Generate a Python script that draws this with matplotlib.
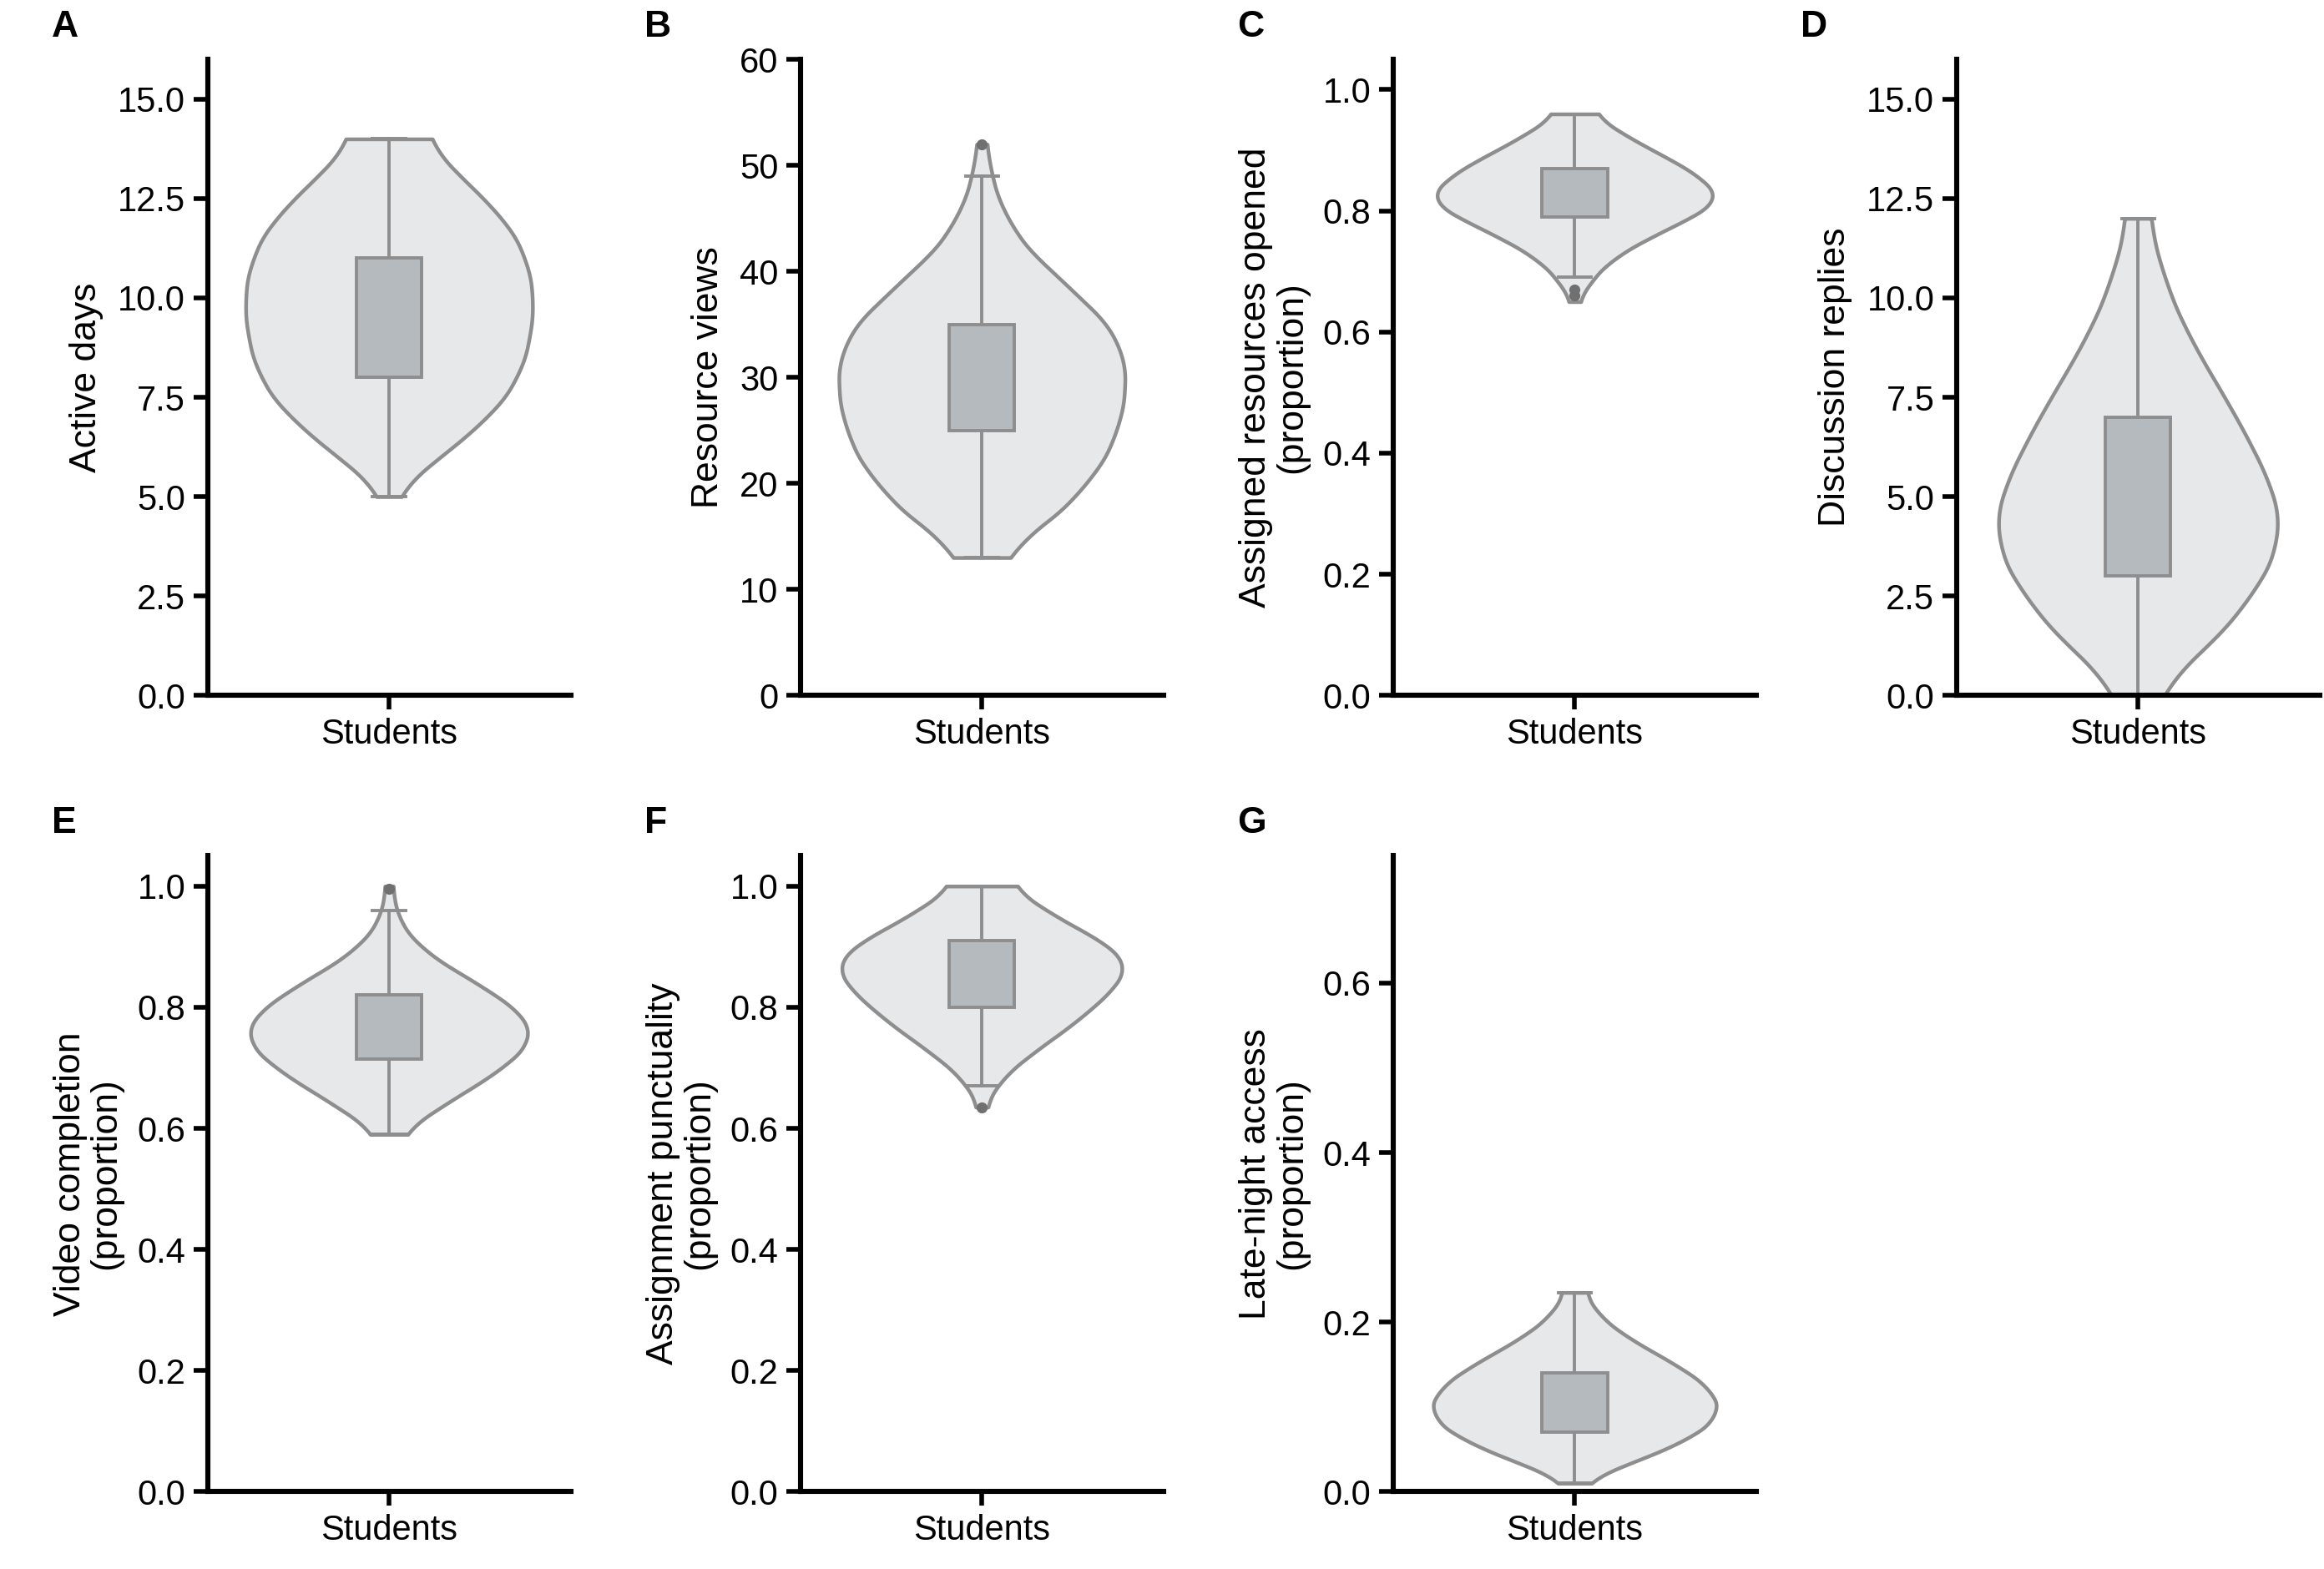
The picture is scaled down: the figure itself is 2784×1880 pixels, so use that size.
import numpy as np
import matplotlib
matplotlib.use("Agg")
from matplotlib import pyplot as plt

plt.rcParams['font.family'] = ['Liberation Sans', 'DejaVu Sans']

letters = ["A", "B", "C", "D", "E", "F", "G"]
ylabels = ["Active days", "Resource views", "Assigned resources opened\n(proportion)",
           "Discussion replies", "Video completion\n(proportion)",
           "Assignment punctuality\n(proportion)", "Late-night access\n(proportion)"]

# violin outlines: (value, half width)
shape_y = [
    [5, 6, 7, 8, 9, 10, 11, 12, 13, 14],
    [13, 15, 20, 25, 30, 33, 37, 40, 45, 50, 52],
    [0.65, 0.68, 0.72, 0.76, 0.80, 0.82, 0.85, 0.88, 0.92, 0.96],
    [0, 1, 2.5, 4, 5, 6, 7.5, 9, 10.5, 12],
    [0.59, 0.65, 0.70, 0.75, 0.78, 0.82, 0.86, 0.90, 0.94, 0.97, 1.0],
    [0.635, 0.68, 0.72, 0.78, 0.84, 0.87, 0.90, 0.95, 1.0],
    [0.01, 0.03, 0.06, 0.09, 0.12, 0.15, 0.18, 0.21, 0.235],
]
shape_w = [
    [0.01, 0.14, 0.28, 0.36, 0.39, 0.40, 0.38, 0.32, 0.20, 0.10],
    [0.04, 0.14, 0.30, 0.38, 0.40, 0.39, 0.30, 0.18, 0.06, 0.02, 0.01],
    [0.01, 0.04, 0.10, 0.22, 0.36, 0.40, 0.36, 0.28, 0.15, 0.05],
    [0.04, 0.17, 0.32, 0.40, 0.38, 0.33, 0.24, 0.14, 0.07, 0.03],
    [0.03, 0.18, 0.32, 0.40, 0.38, 0.30, 0.18, 0.08, 0.03, 0.015, 0.01],
    [0.01, 0.05, 0.13, 0.27, 0.38, 0.40, 0.36, 0.20, 0.08],
    [0.02, 0.13, 0.31, 0.40, 0.38, 0.28, 0.15, 0.06, 0.03],
]
q1 = [8, 25, 0.79, 3, 0.715, 0.80, 0.07]
q3 = [11, 35, 0.87, 7, 0.82, 0.91, 0.14]
wlo = [5, 13, 0.69, 0, 0.59, 0.67, 0.01]
whi = [14, 49, 0.96, 12, 0.96, 1.0, 0.235]
outliers = [[], [52], [0.66, 0.67], [], [0.995], [0.635], []]
ylims = [(0, 16), (0, 60), (0, 1.05), (0, 16), (0, 1.05), (0, 1.05), (0, 0.75)]
yticks = [np.arange(0, 15.1, 2.5), np.arange(0, 61, 10), np.arange(0, 1.01, 0.2),
          np.arange(0, 15.1, 2.5), np.arange(0, 1.01, 0.2), np.arange(0, 1.01, 0.2),
          np.arange(0, 0.61, 0.2)]
fmt = ["%.1f", "%d", "%.1f", "%.1f", "%.1f", "%.1f", "%.1f"]

lefts = [140, 540, 940, 1320]
fig = plt.figure(figsize=(13.92, 9.4), dpi=200)
edge = "#8e8e8e"
for i in range(7):
    r, c = divmod(i, 4)
    top = 40 if r == 0 else 576
    ax = fig.add_axes([lefts[c] / 1568, 1 - (top + 428) / 1056, 245 / 1568, 428 / 1056])
    ys = np.array(shape_y[i], float)
    ws = np.array(shape_w[i], float)
    yy = np.linspace(ys[0], ys[-1], 300)
    ww = np.interp(yy, ys, ws)
    k = 25
    pad = np.concatenate([np.full(k, ww[0]), ww, np.full(k, ww[-1])])
    ww = np.convolve(pad, np.ones(2 * k + 1) / (2 * k + 1), mode="same")[k:-k]
    ax.fill_betweenx(yy, -ww, ww, facecolor="#e6e8ea", edgecolor=edge, lw=1.6, zorder=1)
    ax.plot([0, 0], [wlo[i], whi[i]], color=edge, lw=1.4, zorder=2)
    for v in (wlo[i], whi[i]):
        ax.plot([-0.045, 0.045], [v, v], color=edge, lw=1.4, zorder=2)
    ax.add_patch(plt.Rectangle((-0.09, q1[i]), 0.18, q3[i] - q1[i], facecolor="#b5babf",
                               edgecolor=edge, lw=1.4, zorder=3))
    if outliers[i]:
        ax.scatter(np.zeros(len(outliers[i])), outliers[i], s=14, color="#707070", zorder=4)
    ax.set_xlim(-0.5, 0.5)
    ax.set_ylim(*ylims[i])
    ax.set_yticks(yticks[i])
    ax.set_yticklabels([fmt[i] % t for t in yticks[i]])
    ax.set_xticks([0])
    ax.set_xticklabels(["Students"])
    ax.tick_params(labelsize=15, width=2, length=6)
    ax.set_ylabel(ylabels[i], fontsize=16, linespacing=1.05, labelpad=6)
    for s in ("top", "right"):
        ax.spines[s].set_visible(False)
    for s in ("left", "bottom"):
        ax.spines[s].set_linewidth(2.2)
    fig.text((lefts[c] - 105) / 1568, 1 - (top - 22) / 1056, letters[i],
             fontsize=16, fontweight="bold", va="center")

fig.savefig("out.png", dpi=200)
